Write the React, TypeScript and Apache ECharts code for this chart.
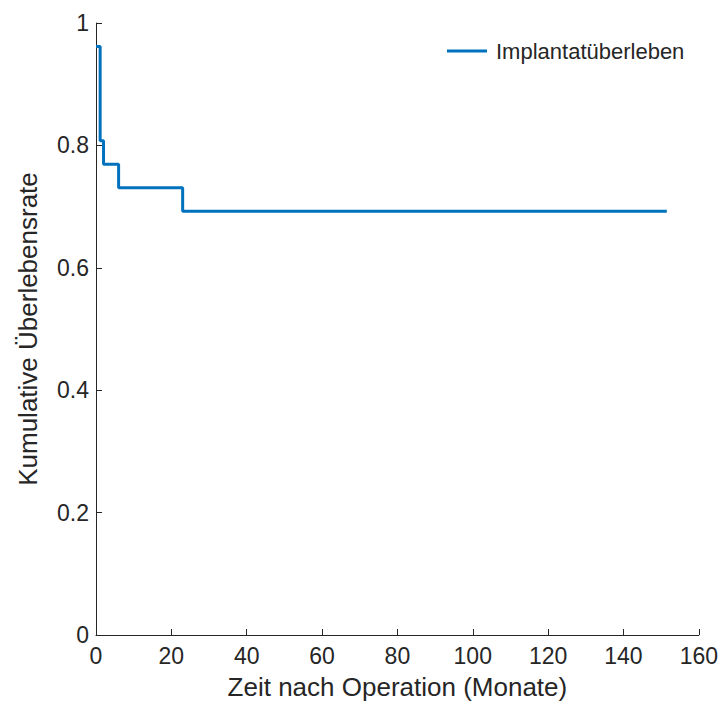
import React, { useEffect, useRef } from "react";
import * as echarts from "echarts";

const seriesName = "Implantatüberleben";
const times = [0, 1.1, 2, 6, 23, 151.5];
const survival = [0.9615, 0.8077, 0.7692, 0.7308, 0.6923, 0.6923];
const xTicks = { min: 0, max: 160, interval: 20 };
const yTicks = { min: 0, max: 1, interval: 0.2 };
const xLabel = "Zeit nach Operation (Monate)";
const yLabel = "Kumulative Überlebensrate";

const FONT = "'Liberation Sans', Arial, Helvetica, sans-serif";
const AXIS_COLOR = "#262626";
const LINE_COLOR = "#0072BD";

export default function App() {
  const ref = useRef<HTMLDivElement>(null);
  useEffect(() => {
    document.body.style.margin = "0";
    if (!ref.current) return;
    const chart = echarts.init(ref.current, undefined, { renderer: "svg" });
    const data = times.map((t, i) => [t, survival[i]]);
    chart.setOption({
      animation: false,
      backgroundColor: "#ffffff",
      textStyle: { fontFamily: FONT },
      grid: { left: 96, right: 21, top: 23, bottom: 69, containLabel: false },
      legend: {
        data: [{ name: seriesName, icon: "rect", itemStyle: { color: LINE_COLOR } }],
        left: 442,
        top: 35,
        itemWidth: 40,
        itemHeight: 3,
        textStyle: { fontFamily: FONT, fontSize: 22, color: AXIS_COLOR, padding: [0, 0, 0, 4] },
      },
      xAxis: {
        type: "value",
        min: xTicks.min,
        max: xTicks.max,
        interval: xTicks.interval,
        name: xLabel,
        nameLocation: "middle",
        nameGap: 39,
        nameTextStyle: { fontFamily: FONT, fontSize: 26, color: AXIS_COLOR },
        axisLine: { show: true, lineStyle: { color: AXIS_COLOR, width: 1 } },
        axisTick: { show: true, inside: true, length: 6, lineStyle: { color: AXIS_COLOR } },
        axisLabel: { fontFamily: FONT, fontSize: 23, color: AXIS_COLOR, margin: 9 },
        splitLine: { show: false },
      },
      yAxis: {
        type: "value",
        min: yTicks.min,
        max: yTicks.max,
        interval: yTicks.interval,
        name: yLabel,
        nameLocation: "middle",
        nameGap: 55,
        nameRotate: 90,
        nameTextStyle: { fontFamily: FONT, fontSize: 26, color: AXIS_COLOR },
        axisLine: { show: true, lineStyle: { color: AXIS_COLOR, width: 1 } },
        axisTick: { show: true, inside: true, length: 6, lineStyle: { color: AXIS_COLOR } },
        axisLabel: {
          fontFamily: FONT,
          fontSize: 23,
          color: AXIS_COLOR,
          margin: 7,
          formatter: (v: number) => String(parseFloat(v.toFixed(1))),
        },
        splitLine: { show: false },
      },
      series: [
        {
          name: seriesName,
          type: "line",
          step: "end",
          data,
          showSymbol: false,
          symbol: "none",
          lineStyle: { color: LINE_COLOR, width: 3 },
          itemStyle: { color: LINE_COLOR },
        },
      ],
    });
    return () => chart.dispose();
  }, []);
  return <div ref={ref} style={{ width: 721, height: 705 }} />;
}
